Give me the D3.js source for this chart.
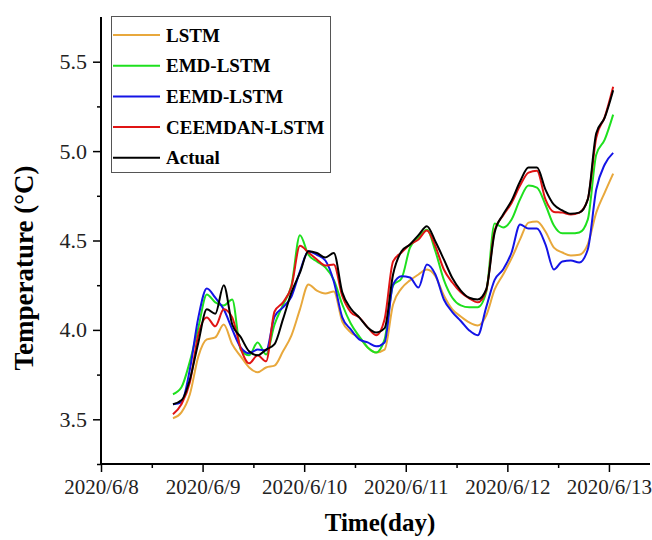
<!DOCTYPE html>
<html>
<head>
<meta charset="utf-8">
<script src="https://cdn.jsdelivr.net/npm/d3@7"></script>
<style>
  body { margin: 0; background: #fff; }
  svg text { font-family: "Liberation Serif", "Times New Roman", serif; }
</style>
</head>
<body>
<div id="chart"></div>
<script>
// hours since 2020/6/8 00:00, one sample every 2 hours
const hours = d3.range(17, 122, 2);

const lstm = [3.506, 3.539, 3.64, 3.852, 3.947, 3.958, 4.03, 3.92, 3.852, 3.79,
  3.763, 3.79, 3.80, 3.88, 3.97, 4.115, 4.254, 4.22, 4.204, 4.215,
  4.047, 3.986, 3.958, 3.902, 3.874, 3.89, 4.142, 4.232, 4.277, 4.31,
  4.338, 4.30, 4.193, 4.115, 4.075, 4.042, 4.025, 4.08, 4.226, 4.31,
  4.40, 4.506, 4.60, 4.606, 4.55, 4.46, 4.433, 4.416, 4.42, 4.478,
  4.656, 4.768, 4.874];

const emdLstm = [3.64, 3.679, 3.824, 4.014, 4.198, 4.154, 4.137, 4.17, 3.89, 3.858,
  3.93, 3.863, 4.03, 4.14, 4.25, 4.53, 4.42, 4.383, 4.35, 4.28,
  4.142, 4.036, 3.964, 3.902, 3.874, 3.947, 4.249, 4.288, 4.46, 4.517,
  4.56, 4.44, 4.28, 4.18, 4.137, 4.126, 4.126, 4.21, 4.595, 4.573,
  4.617, 4.73, 4.807, 4.796, 4.70, 4.584, 4.54, 4.54, 4.545, 4.617,
  4.98, 5.064, 5.204];

const eemdLstm = [3.584, 3.595, 3.78, 4.07, 4.232, 4.18, 4.115, 4.003, 3.902, 3.869,
  3.89, 3.885, 4.075, 4.126, 4.187, 4.327, 4.44, 4.42, 4.388, 4.271,
  4.07, 4.003, 3.947, 3.93, 3.908, 3.93, 4.254, 4.30, 4.293, 4.237,
  4.366, 4.31, 4.17, 4.10, 4.05, 3.997, 3.97, 4.126, 4.28, 4.338,
  4.433, 4.59, 4.567, 4.567, 4.478, 4.338, 4.383, 4.388, 4.377, 4.45,
  4.785, 4.925, 4.99];

const ceemdanLstm = [3.528, 3.584, 3.707, 3.975, 4.07, 4.02, 4.115, 4.07, 3.897, 3.813,
  3.858, 3.824, 4.103, 4.154, 4.243, 4.47, 4.433, 4.394, 4.36, 4.366,
  4.19, 4.10, 4.07, 4.014, 3.97, 4.06, 4.383, 4.433, 4.478, 4.506,
  4.556, 4.467, 4.338, 4.265, 4.21, 4.176, 4.154, 4.22, 4.556, 4.64,
  4.71, 4.807, 4.88, 4.89, 4.73, 4.66, 4.656, 4.645, 4.656, 4.73,
  5.075, 5.19, 5.36];

const actual = [3.584, 3.606, 3.723, 3.93, 4.115, 4.09, 4.25, 4.03, 3.96, 3.88,
  3.858, 3.89, 3.92, 4.06, 4.21, 4.32, 4.44, 4.43, 4.405, 4.43,
  4.21, 4.12, 4.07, 4.014, 3.986, 4.01, 4.31, 4.44, 4.478, 4.53,
  4.58, 4.494, 4.394, 4.29, 4.22, 4.18, 4.17, 4.226, 4.545, 4.645,
  4.723, 4.83, 4.908, 4.908, 4.785, 4.70, 4.668, 4.65, 4.656, 4.73,
  5.10, 5.187, 5.34];

const seriesNames = ['LSTM', 'EMD-LSTM', 'EEMD-LSTM', 'CEEMDAN-LSTM', 'Actual'];
const seriesColors = ['#E8A83C', '#1EE01E', '#1414E6', '#E01414', '#000000'];
const seriesValues = [lstm, emdLstm, eemdLstm, ceemdanLstm, actual];

const yTicks = [3.5, 4.0, 4.5, 5.0, 5.5];
const xTickDays = [8, 9, 10, 11, 12, 13];

const width = 652, height = 540;
const plotLeft = 101, plotRight = 650, plotTop = 17, plotBottom = 464;

const svg = d3.select('#chart').append('svg')
  .attr('width', width)
  .attr('height', height);

const start = new Date(2020, 5, 8);
const toDate = h => new Date(start.getTime() + h * 3600 * 1000);

const x = d3.scaleTime()
  .domain([start, toDate(24 * 5 + 9.7)])
  .range([plotLeft, plotRight]);

const y = d3.scaleLinear()
  .domain([3.25, 5.75])
  .range([plotBottom, plotTop]);

// minor ticks
const minorX = d3.range(12, 24 * 5 + 9, 24).map(toDate);
svg.append('g')
  .attr('transform', `translate(0,${plotBottom})`)
  .call(d3.axisBottom(x).tickValues(minorX).tickSize(4).tickFormat(''))
  .call(g => g.select('.domain').remove())
  .selectAll('line').attr('stroke', '#000').attr('stroke-width', 1.5);

svg.append('g')
  .attr('transform', `translate(${plotLeft},0)`)
  .call(d3.axisLeft(y).tickValues([3.25, 3.75, 4.25, 4.75, 5.25]).tickSize(4).tickFormat(''))
  .call(g => g.select('.domain').remove())
  .selectAll('line').attr('stroke', '#000').attr('stroke-width', 1.5);

// x axis
const xAxis = svg.append('g')
  .attr('transform', `translate(0,${plotBottom})`)
  .call(d3.axisBottom(x)
    .tickValues(xTickDays.map(d => new Date(2020, 5, d)))
    .tickSize(8)
    .tickPadding(7)
    .tickFormat(d3.timeFormat('%Y/%-m/%-d')));
xAxis.select('.domain').attr('stroke', '#000').attr('stroke-width', 2)
  .attr('d', `M${plotLeft},0H${plotRight}`);
xAxis.selectAll('line').attr('stroke', '#000').attr('stroke-width', 1.5);
xAxis.selectAll('text')
  .attr('font-size', 21)
  .attr('fill', '#222')
  .style('font-family', '"Liberation Serif", "Times New Roman", serif');

// y axis
const yAxis = svg.append('g')
  .attr('transform', `translate(${plotLeft},0)`)
  .call(d3.axisLeft(y)
    .tickValues(yTicks)
    .tickSize(8)
    .tickPadding(6)
    .tickFormat(d3.format('.1f')));
yAxis.select('.domain').attr('stroke', '#000').attr('stroke-width', 2)
  .attr('d', `M0,${plotTop}V${plotBottom}`);
yAxis.selectAll('line').attr('stroke', '#000').attr('stroke-width', 1.5);
yAxis.selectAll('text')
  .attr('font-size', 22)
  .attr('fill', '#222')
  .style('font-family', '"Liberation Serif", "Times New Roman", serif');

// axis titles
svg.append('text')
  .attr('x', 380)
  .attr('y', 531)
  .attr('text-anchor', 'middle')
  .attr('font-size', 25)
  .attr('font-weight', 'bold')
  .text('Time(day)');

svg.append('text')
  .attr('transform', 'translate(33,268) rotate(-90)')
  .attr('text-anchor', 'middle')
  .attr('font-size', 27)
  .attr('font-weight', 'bold')
  .text('Temperature (°C)');

// lines
const line = d3.line()
  .x((d, i) => x(toDate(hours[i])))
  .y(d => y(d))
  .curve(d3.curveMonotoneX);

svg.append('g')
  .selectAll('path')
  .data(seriesValues)
  .join('path')
  .attr('d', d => line(d))
  .attr('fill', 'none')
  .attr('stroke', (d, i) => seriesColors[i])
  .attr('stroke-width', 2)
  .attr('stroke-linejoin', 'round');

// legend
const legend = svg.append('g');
legend.append('rect')
  .attr('x', 111.5)
  .attr('y', 16.5)
  .attr('width', 219)
  .attr('height', 156)
  .attr('fill', '#fff')
  .attr('stroke', '#555')
  .attr('stroke-width', 1);

const rows = legend.selectAll('g.row')
  .data(seriesNames)
  .join('g')
  .attr('class', 'row')
  .attr('transform', (d, i) => `translate(0,${35 + i * 30.7})`);

rows.append('line')
  .attr('x1', 113)
  .attr('x2', 160)
  .attr('stroke', (d, i) => seriesColors[i])
  .attr('stroke-width', 2);

rows.append('text')
  .attr('x', 166)
  .attr('dy', '0.35em')
  .attr('font-size', 19)
  .attr('font-weight', 'bold')
  .text(d => d);
</script>
</body>
</html>
